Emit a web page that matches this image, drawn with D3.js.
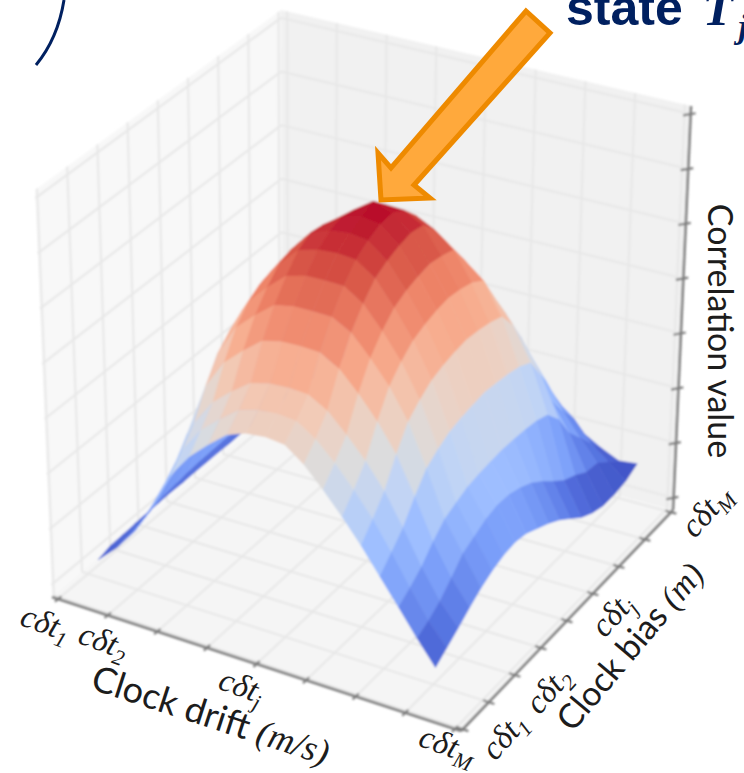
<!DOCTYPE html>
<html lang="en">
<head>
<meta charset="UTF-8">
<title>Correlation surface</title>
<script src="https://cdn.jsdelivr.net/npm/d3@7"></script>
<style>
  body { margin: 0; background: #fff; }
  svg { display: block; }
  .lbl { font-family: Lato, "Open Sans", sans-serif; fill: #1c1c1c; }
  .math { font-family: "Liberation Serif", serif; font-style: italic; fill: #1c1c1c; }
</style>
</head>
<body>
<svg width="744" height="773" viewBox="0 0 744 773"></svg>
<script>
// tick labels
const tickNames = ["1", "2", "", "", "j", "", "", "", "M"];
const zTickCount = 8;

// correlation, one row per clock bias step, one column per clock drift step
const corrValues = [
  [.110,.153,.208,.284,.374,.433,.476,.514,.531,.536,.531,.497,.450,.399,.344,.284,.225,.165,.110],
  [.119,.158,.222,.312,.410,.472,.512,.548,.562,.566,.562,.532,.488,.437,.381,.315,.245,.180,.130],
  [.120,.164,.239,.343,.451,.515,.555,.589,.601,.604,.601,.575,.530,.481,.422,.348,.268,.200,.150],
  [.122,.175,.264,.388,.517,.588,.630,.667,.678,.680,.678,.651,.604,.550,.484,.396,.302,.229,.172],
  [.123,.184,.285,.428,.571,.649,.692,.729,.739,.740,.739,.714,.664,.609,.537,.438,.330,.261,.192],
  [.124,.188,.297,.449,.602,.687,.735,.776,.789,.790,.789,.759,.705,.643,.564,.459,.343,.275,.207],
  [.125,.192,.305,.465,.626,.707,.769,.814,.828,.832,.828,.795,.736,.669,.586,.475,.355,.290,.217],
  [.124,.194,.310,.473,.639,.717,.780,.833,.850,.856,.850,.813,.752,.683,.597,.483,.360,.297,.221],
  [.125,.195,.313,.478,.646,.712,.776,.827,.860,.872,.865,.825,.762,.692,.604,.488,.363,.295,.215],
  [.125,.196,.315,.482,.651,.717,.766,.816,.852,.885,.868,.832,.768,.697,.608,.492,.365,.285,.200],
  [.125,.195,.313,.478,.646,.712,.759,.796,.828,.852,.850,.825,.762,.692,.604,.488,.363,.270,.185],
  [.124,.194,.310,.473,.639,.700,.744,.774,.795,.812,.812,.789,.752,.683,.597,.483,.360,.247,.166],
  [.125,.192,.305,.465,.626,.692,.722,.750,.760,.765,.760,.734,.700,.663,.586,.475,.355,.220,.142],
  [.124,.188,.297,.449,.602,.672,.700,.720,.727,.732,.707,.677,.640,.594,.540,.459,.343,.195,.117],
  [.123,.184,.285,.428,.571,.649,.677,.687,.692,.686,.653,.620,.580,.530,.470,.400,.305,.180,.100],
  [.122,.172,.255,.370,.490,.560,.610,.650,.660,.628,.593,.560,.515,.450,.380,.310,.245,.160,.090],
  [.120,.165,.235,.335,.440,.505,.545,.580,.595,.573,.536,.500,.448,.386,.325,.260,.205,.155,.090],
  [.119,.158,.215,.300,.395,.450,.490,.525,.535,.515,.480,.430,.380,.310,.250,.215,.165,.130,.095],
  [.118,.150,.200,.270,.350,.405,.440,.470,.480,.457,.410,.359,.290,.240,.190,.150,.125,.105,.110]
];

// coolwarm stops
const coolwarm = ["#3b4cc0","#5977e3","#7b9ff9","#9ebeff","#c0d4f5","#dddcdc","#f2cbb7","#f7ac8e","#ee8468","#d65244","#b40426"];

// box corners on the page: [floor, top] for each vertical edge
const cornerL = [[52, 597], [35, 190]];
const cornerF = [[461, 731], [470, 308]];
const cornerR = [[673, 510], [691, 106]];
const cornerB = [[282, 405], [281, 10]];

const svg = d3.select("svg");

const nDrift = corrValues[0].length, nBias = corrValues.length;
const xSurf = d3.scaleLinear().domain([0, nDrift - 1]).range([.10, .92]);
const ySurf = d3.scaleLinear().domain([0, nBias - 1]).range([.03, .97]);
const zSurf = d3.scaleLinear().domain([0, 1]).range([0, 1]);
const xTick = d3.scaleLinear().domain([0, tickNames.length - 1]).range([.015, .985]);
const yTick = d3.scaleLinear().domain([0, tickNames.length - 1]).range([.008, .99]);
const zTick = d3.scaleLinear().domain([0, zTickCount - 1]).range([.03, .98]);

const allVals = corrValues.flat();
const color = d3.scaleSequential(d3.piecewise(d3.interpolateRgb, coolwarm))
  .domain([d3.min(allVals), d3.max(allVals)]);

function lerp(a, b, t) { return [a[0] + (b[0] - a[0]) * t, a[1] + (b[1] - a[1]) * t]; }

// trilinear map of the unit box to the page
function project(u, v, z) {
  const front = lerp(lerp(cornerL[0], cornerF[0], u), lerp(cornerL[1], cornerF[1], u), z);
  const back = lerp(lerp(cornerB[0], cornerR[0], u), lerp(cornerB[1], cornerR[1], u), z);
  return lerp(front, back, v);
}
const line = d3.line();

const defs = svg.append("defs");
defs.append("filter").attr("id", "soft").append("feGaussianBlur").attr("stdDeviation", 0.9);
const chart = svg.append("g").attr("filter", "url(#soft)");

// panes
function pane(pts, fill) {
  chart.append("path").attr("d", line(pts.map(p => project(...p))) + "Z").attr("fill", fill);
}
pane([[0, 0, 0], [0, 1, 0], [0, 1, 1], [0, 0, 1]], "#f8f8f8");
pane([[0, 1, 0], [1, 1, 0], [1, 1, 1], [0, 1, 1]], "#f1f1f1");
pane([[0, 0, 0], [1, 0, 0], [1, 1, 0], [0, 1, 0]], "#f5f5f5");

// grid lines
function gridLine(a, b) {
  chart.append("path").attr("d", line([project(...a), project(...b)]))
    .attr("stroke", "#e7e7e7").attr("stroke-width", 2).attr("fill", "none");
}
d3.range(tickNames.length).forEach(i => {
  const u = xTick(i), v = yTick(i);
  gridLine([u, 0, 0], [u, 1, 0]);
  gridLine([u, 1, 0], [u, 1, 1]);
  gridLine([0, v, 0], [1, v, 0]);
  gridLine([0, v, 0], [0, v, 1]);
});
d3.range(zTickCount).forEach(i => {
  const z = zTick(i);
  gridLine([0, 0, z], [0, 1, z]);
  gridLine([0, 1, z], [1, 1, z]);
});

// axes
function axisLine(a, b, w) {
  chart.append("path").attr("d", line([project(...a), project(...b)]))
    .attr("stroke", "#7d7d7d").attr("stroke-width", w).attr("fill", "none");
}
axisLine([0, 0, 0], [1, 0, 0], 2.6);
axisLine([1, 0, 0], [1, 1, 0], 2.6);
axisLine([1, 1, 0], [1, 1, 1], 2.6);
d3.range(tickNames.length).forEach(i => {
  axisLine([xTick(i), -.014, 0], [xTick(i), .014, 0], 2.2);
  axisLine([1.014, yTick(i), 0], [.986, yTick(i), 0], 2.2);
});
d3.range(zTickCount).forEach(i => {
  axisLine([1.008, 1.008, zTick(i)], [.988, .988, zTick(i)], 2.2);
});

// surface, far cells first
const faces = [];
for (let i = 0; i < nDrift - 1; i++) {
  for (let j = nBias - 2; j >= 0; j--) {
    const corners = [[i, j], [i + 1, j], [i + 1, j + 1], [i, j + 1]];
    faces.push({
      pts: corners.map(c => project(xSurf(c[0]), ySurf(c[1]), zSurf(corrValues[c[1]][c[0]]))),
      val: d3.mean(corners, c => corrValues[c[1]][c[0]])
    });
  }
}
chart.append("g").selectAll("path").data(faces).join("path")
  .attr("d", d => line(d.pts) + "Z")
  .attr("fill", d => color(d.val))
  .attr("stroke", d => color(d.val))
  .attr("stroke-width", 0.6);

// tick labels
function tickLabel(x, y, angle, sub) {
  const t = svg.append("text").attr("class", "math").attr("font-size", 33)
    .attr("text-anchor", "middle")
    .attr("transform", `translate(${x},${y}) rotate(${angle})`);
  t.append("tspan").text("cδt");
  t.append("tspan").attr("font-size", 22).attr("dy", 7).text(sub);
}
const driftLabelPos = { 0: [42, 633], 1: [100, 651], 4: [238, 696], 8: [444, 755] };
const biasLabelPos = { 0: [512, 743], 1: [556, 697], 4: [620, 622], 8: [714, 518] };
tickNames.forEach((s, i) => {
  if (!s) return;
  tickLabel(...driftLabelPos[i], 20, s);
  tickLabel(...biasLabelPos[i], -48, s);
});

// axis titles
const driftTitle = svg.append("text").attr("class", "lbl").attr("font-size", 36)
  .attr("text-anchor", "middle").attr("transform", "translate(207,727) rotate(18)");
driftTitle.append("tspan").text("Clock drift ");
driftTitle.append("tspan").attr("class", "math").text("(m/s)");

const biasTitle = svg.append("text").attr("class", "lbl").attr("font-size", 34)
  .attr("text-anchor", "middle").attr("transform", "translate(639,654) rotate(-50)");
biasTitle.append("tspan").text("Clock bias ");
biasTitle.append("tspan").attr("class", "math").text("(m)");

svg.append("text").attr("class", "lbl").attr("font-size", 34)
  .attr("text-anchor", "middle").attr("transform", "translate(708,331) rotate(90)")
  .text("Correlation value");

// callout cut by the picture edge
const callout = svg.append("text").attr("x", 566).attr("y", 25).attr("fill", "#002060")
  .attr("font-size", 50).attr("font-weight", "bold").attr("font-family", "Liberation Sans");
callout.append("tspan").text("state ");
callout.append("tspan").attr("dx", 6).attr("font-family", "Liberation Serif").attr("font-style", "italic").text("T");
callout.append("tspan").attr("dx", 5).attr("font-family", "Liberation Serif").attr("font-style", "italic")
  .attr("font-size", 34).attr("dy", 13).text("j");

svg.append("path").attr("d", "M64,0C60,25 50,48 36,65")
  .attr("fill", "none").attr("stroke", "#002060").attr("stroke-width", 3);

// arrow pointing at the peak
const arrowPts = [[526, 11], [550, 33], [414, 185], [430, 198], [381, 200], [378, 153], [391, 168]];
svg.append("path").attr("d", line(arrowPts) + "Z")
  .attr("fill", "#ffa93c").attr("stroke", "#ee8a00").attr("stroke-width", 5);
</script>
</body>
</html>
